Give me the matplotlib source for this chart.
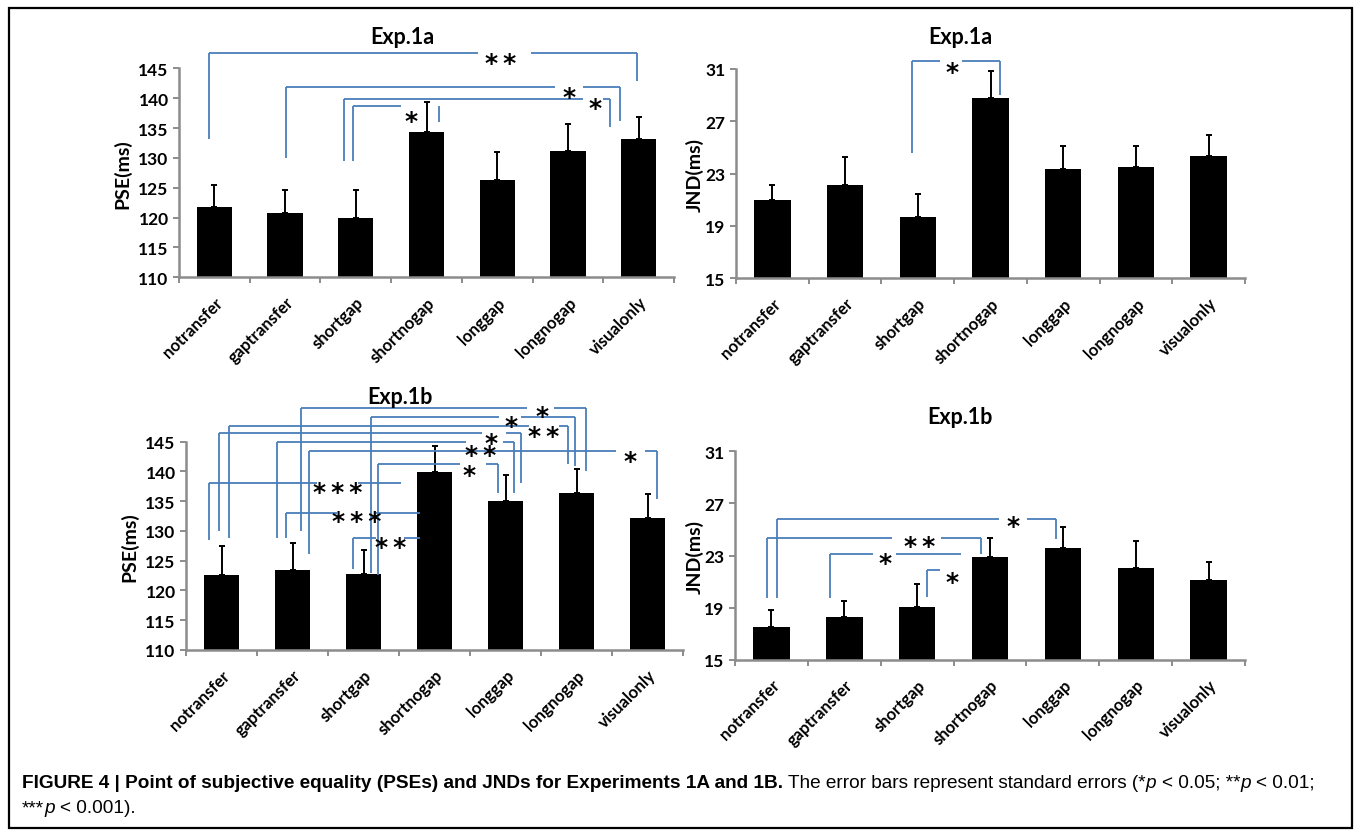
import matplotlib
matplotlib.use('Agg')
import matplotlib.pyplot as plt
from matplotlib import font_manager
from matplotlib.patches import Rectangle
import numpy as np

# ---------------- data ----------------
categories = ['notransfer', 'gaptransfer', 'shortgap', 'shortnogap',
              'longgap', 'longnogap', 'visualonly']

pse_1a = [121.7, 120.7, 120.0, 134.3, 126.3, 131.2, 133.2]
pse_1a_err = [3.8, 4.0, 4.7, 5.0, 4.7, 4.4, 3.7]

jnd_1a = [20.97, 22.17, 19.72, 28.78, 23.32, 23.52, 24.34]
jnd_1a_err = [1.18, 2.09, 1.74, 2.09, 1.78, 1.58, 1.63]

pse_1b = [122.64, 123.42, 122.75, 139.86, 135.10, 136.33, 132.25]
pse_1b_err = [4.81, 4.53, 4.03, 4.41, 4.30, 4.14, 4.02]

jnd_1b = [17.48, 18.30, 19.07, 22.91, 23.55, 22.06, 21.09]
jnd_1b_err = [1.36, 1.23, 1.72, 1.41, 1.64, 2.03, 1.41]

pse_ticks = [110, 115, 120, 125, 130, 135, 140, 145]
jnd_ticks = [15, 19, 23, 27, 31]

# significance brackets: (label, x_left, y_left, y_top, x_right, y_right, gap, label_x, label_y)
sig_pse_1a = [
    ('**', -0.07, 133.2, 147.6, 5.97, 142.9, (3.73, 4.48), 4.05, 147.1),
    ('*', 1.02, 130.0, 141.9, 5.74, 136.1, (4.82, 5.21), 5.02, 141.4),
    ('*', 1.83, 129.5, 139.9, 5.60, 135.2, (5.22, 5.50), 5.38, 139.6),
    ('*', 1.96, 129.5, 138.7, 3.18, 136.0, (2.64, 3.18), 2.78, 137.4),
]
sig_jnd_1a = [
    ('*', 1.92, 24.57, 31.59, 3.13, 29.04, (2.31, 2.61), 2.47, 31.33),
]
sig_pse_1b = [
    ('*', 1.12, 130.0, 150.7, 5.13, 140.1, (4.30, 4.69), 4.51, 150.5),
    ('*', 2.10, 123.0, 149.2, 4.98, 140.9, (3.91, 4.22), 4.08, 148.9),
    ('**', 0.10, 128.8, 147.6, 4.88, 141.2, (4.33, 4.75), 4.54, 147.2),
    ('*', -0.03, 130.0, 146.5, 4.22, 138.1, (3.67, 4.01), 3.79, 146.0),
    ('**', 0.78, 128.8, 145.0, 4.12, 136.4, (3.44, 3.96), 3.65, 143.9),
    ('*', 1.23, 126.1, 143.5, 6.14, 135.4, (5.55, 5.96), 5.75, 143.0),
    ('*', 2.21, 122.6, 141.2, 3.90, 136.4, (3.36, 3.72), 3.49, 140.7),
    ('***', -0.17, 128.4, 138.0, 2.53, None, (1.34, 1.92), 1.63, 137.8),
    ('***', 0.91, 128.8, 133.1, 2.79, None, (1.63, 2.18), 1.91, 132.9),
    ('**', 1.85, 123.6, 128.8, 2.79, None, (2.18, 2.57), 2.38, 128.6),
]
sig_jnd_1b = [
    ('*', 0.07, 19.74, 25.80, 3.91, 24.29, (3.12, 3.51), 3.32, 25.85),
    ('**', -0.06, 19.74, 24.32, 2.87, 23.14, (1.66, 2.33), 2.04, 24.30),
    ('*', 0.80, 19.74, 23.09, 2.60, None, (1.40, 1.71), 1.56, 23.0),
    ('*', 2.13, 19.81, 21.91, 2.31, None, None, 2.48, 21.55),
]

titles = ['Exp.1a', 'Exp.1a', 'Exp.1b', 'Exp.1b']
ylabels = ['PSE(ms)', 'JND(ms)', 'PSE(ms)', 'JND(ms)']

# ---------------- style ----------------
W, H = 1360, 837
GRAY = '#8c8c8c'
BLUE = '#4a7ebb'
names = {f.name for f in font_manager.fontManager.ttflist}
TICK_FONT = 'Lato' if 'Lato' in names else 'DejaVu Sans'
CAP_FONT = 'Liberation Sans Narrow' if 'Liberation Sans Narrow' in names else 'Liberation Sans'
STAR_FONT = 'DejaVu Sans'

fig = plt.figure(figsize=(W / 100, H / 100), dpi=100)
fig.patch.set_facecolor('white')


def px_axes(x0, y0, x1, y1):
    return fig.add_axes([x0 / W, 1 - y1 / H, (x1 - x0) / W, (y1 - y0) / H])


def draw_panel(ax, vals, errs, ylim, yticks, ylabel, label_x, brackets):
    x = np.arange(len(categories))
    ax.bar(x, vals, width=0.5, color='black', zorder=2)
    ax.errorbar(x, vals, yerr=[np.zeros(len(vals)), errs], fmt='none',
                ecolor='black', elinewidth=1.4, capsize=2.3, capthick=1.4, zorder=3)
    ax.set_xlim(-0.5, len(categories) - 0.5)
    ax.set_ylim(*ylim)
    ax.set_yticks(yticks)
    ax.set_yticklabels([str(t) for t in yticks], fontfamily=TICK_FONT,
                       fontweight='bold', fontsize=12.5)
    for s in ['top', 'right']:
        ax.spines[s].set_visible(False)
    for s in ['left', 'bottom']:
        ax.spines[s].set_color(GRAY)
        ax.spines[s].set_linewidth(1.8)
    ax.tick_params(axis='y', direction='out', length=4.5, width=1.4, color=GRAY, pad=3)
    ax.set_xticks(x)
    ax.set_xticklabels(categories, rotation=45, ha='right', va='top',
                       rotation_mode='anchor', fontfamily=TICK_FONT,
                       fontweight='bold', fontsize=12)
    ax.tick_params(axis='x', which='major', length=0, pad=12)
    ax.set_xticks(np.arange(-0.5, len(categories), 1.0), minor=True)
    ax.tick_params(axis='x', which='minor', direction='out', length=4, width=1.4, color=GRAY)
    ax.set_ylabel(ylabel, fontfamily=TICK_FONT, fontweight='bold', fontsize=14)
    ax.yaxis.set_label_coords(label_x, 0.5)
    ax.yaxis.label.set_verticalalignment('center')

    for lab, xl, yl, yt, xr, yr, gap, lx, ly in brackets:
        kw = dict(color=BLUE, lw=1.3, clip_on=False, zorder=4, solid_capstyle='butt')
        ax.plot([xl, xl], [yl, yt], **kw)
        if gap is None:
            ax.plot([xl, xr], [yt, yt], **kw)
        else:
            ax.plot([xl, gap[0]], [yt, yt], **kw)
            if gap[1] < xr:
                ax.plot([gap[1], xr], [yt, yt], **kw)
        if yr is not None:
            ax.plot([xr, xr], [yt, yr], **kw)
        fs = 18
        ax.annotate('\u2009'.join(lab), xy=(lx, ly), xytext=(0, -0.57 * fs),
                    textcoords='offset points', ha='center', va='baseline',
                    fontsize=fs, fontfamily=STAR_FONT, fontweight='bold',
                    annotation_clip=False, zorder=5)


ax1 = px_axes(179, 69.3, 674, 278.3)
draw_panel(ax1, pse_1a, pse_1a_err, (110, 145), pse_ticks, ylabels[0], -0.115, sig_pse_1a)
ax2 = px_axes(736, 70, 1245, 279.3)
draw_panel(ax2, jnd_1a, jnd_1a_err, (15, 31), jnd_ticks, ylabels[1], -0.081, sig_jnd_1a)
ax3 = px_axes(186, 442.7, 683, 651)
draw_panel(ax3, pse_1b, pse_1b_err, (110, 145), pse_ticks, ylabels[2], -0.114, sig_pse_1b)
ax4 = px_axes(735, 452.3, 1245, 660.7)
draw_panel(ax4, jnd_1b, jnd_1b_err, (15, 31), jnd_ticks, ylabels[3], -0.079, sig_jnd_1b)

# titles
for (tx, ty), t in zip([(402, 37), (960, 38), (400, 398), (960, 418)], titles):
    fig.text(tx / W, 1 - ty / H, t, ha='center', va='center', fontfamily=TICK_FONT,
             fontweight='bold', fontsize=15.5)

# border
fig.add_artist(Rectangle((9 / W, 1 - 829 / H), (1352 - 9) / W, (829 - 9) / H,
                         transform=fig.transFigure, fill=False, lw=1.6, ec='black'))

# caption
renderer = fig.canvas.get_renderer()


def text_width(s, fs, weight='normal', style='normal'):
    t = fig.text(0, 0, s, fontsize=fs, fontfamily=CAP_FONT, fontweight=weight, fontstyle=style)
    w = t.get_window_extent(renderer).width
    t.remove()
    return w


line1 = [("FIGURE 4 | Point of subjective equality (PSEs) and JNDs for Experiments 1A and 1B.", 'bold', 'normal'),
         (" The error bars represent standard errors (*", 'normal', 'normal'),
         ("p", 'normal', 'italic'),
         (" < 0.05; **", 'normal', 'normal'),
         ("p", 'normal', 'italic'),
         (" < 0.01;", 'normal', 'normal')]
line2 = [("***", 'normal', 'normal'),
         ("p", 'normal', 'italic'),
         (" < 0.001).", 'normal', 'normal')]


def run_width(runs, fs):
    sp = text_width('x x', fs) - text_width('xx', fs)
    total = 0
    for s, w, st in runs:
        lead = len(s) - len(s.lstrip(' '))
        total += lead * sp + text_width(s.strip(' '), fs, w, st)
    return total


def draw_runs(runs, x, y, fs):
    sp = text_width('x x', fs) - text_width('xx', fs)
    for s, w, st in runs:
        lead = len(s) - len(s.lstrip(' '))
        x += lead * sp
        core = s.strip(' ')
        fig.text(x / W, 1 - y / H, core, fontsize=fs, fontfamily=CAP_FONT,
                 fontweight=w, fontstyle=st, ha='left', va='baseline')
        x += text_width(core, fs, w, st)


fs0 = 12
wid = run_width(line1, fs0)
cap_fs = fs0 * (1318 - 22) / wid
draw_runs(line1, 22, 788, cap_fs)
draw_runs(line2, 22, 813, cap_fs)

fig.savefig('out.png', dpi=100, facecolor='white')
